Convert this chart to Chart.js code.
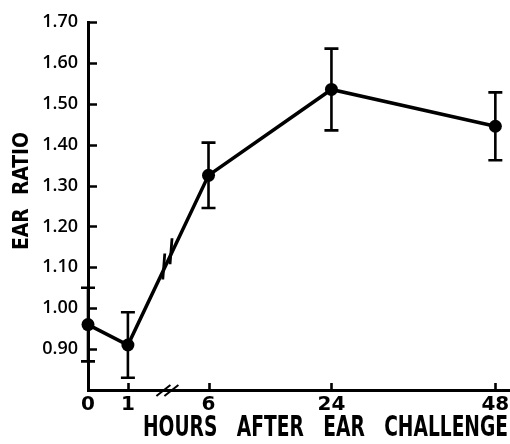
<!DOCTYPE html>
<html>
<head>
<meta charset="utf-8">
<script src="https://cdn.jsdelivr.net/npm/chart.js@4.4.1/dist/chart.umd.min.js"></script>
<style>
  html, body { margin: 0; padding: 0; background: #fff; overflow: hidden; }
  #wrap { width: 510px; height: 444px; }
  canvas { display: block; }
</style>
</head>
<body>
<div id="wrap"><canvas id="chart"></canvas></div>
<script>
// Data
const hours = [0, 1, 6, 24, 48];
const earRatio = [0.96, 0.91, 1.325, 1.535, 1.445];
const earError = [0.09, 0.08, 0.08, 0.10, 0.083];
const yTicks = [0.80, 0.90, 1.00, 1.10, 1.20, 1.30, 1.40, 1.50, 1.60, 1.70];

const xTitle = 'HOURS   AFTER   EAR   CHALLENGE';
const yTitle = 'EAR  RATIO';

// Broken time axis: 0-1 h is stretched, 1-6 h is cut, after 6 h it is linear.
const AXIS_KNOTS = [[0, 0], [1, 1], [6, 3.02], [50, 10.55]];

class BrokenHourScale extends Chart.LinearScale {
    toSlot(v) {
        const k = AXIS_KNOTS;
        if (v <= k[0][0]) return k[0][1];
        for (let i = 1; i < k.length; i++) {
            if (v <= k[i][0]) {
                const t = (v - k[i - 1][0]) / (k[i][0] - k[i - 1][0]);
                return k[i - 1][1] + t * (k[i][1] - k[i - 1][1]);
            }
        }
        return k[k.length - 1][1];
    }
    getPixelForValue(value) {
        const total = AXIS_KNOTS[AXIS_KNOTS.length - 1][1];
        return this.getPixelForDecimal(this.toSlot(value) / total);
    }
    getValueForPixel(pixel) {
        const k = AXIS_KNOTS;
        const slot = this.getDecimalForPixel(pixel) * k[k.length - 1][1];
        for (let i = 1; i < k.length; i++) {
            if (slot <= k[i][1]) {
                const t = (slot - k[i - 1][1]) / (k[i][1] - k[i - 1][1]);
                return k[i - 1][0] + t * (k[i][0] - k[i - 1][0]);
            }
        }
        return k[k.length - 1][0];
    }
}
BrokenHourScale.id = 'brokenHour';
BrokenHourScale.defaults = Chart.LinearScale.defaults;
Chart.register(BrokenHourScale);

// squeezed condensed-bold axis titles, like the typeset originals
function squeezedText(ctx, text, size, width) {
    ctx.font = "bold " + size + "px 'DejaVu Sans Condensed', 'DejaVu Sans', sans-serif";
    const w = ctx.measureText(text).width;
    ctx.scale(width / w, 1);
    ctx.fillText(text, 0, 0);
}

// error bars, inside tick marks, break symbols and titles
const marks = {
    id: 'marks',
    beforeDatasetsDraw(chart) {
        const { ctx, scales: { x, y } } = chart;
        ctx.save();
        ctx.strokeStyle = '#000';
        ctx.lineWidth = 2.6;
        hours.forEach((h, i) => {
            const px = x.getPixelForValue(h);
            const top = y.getPixelForValue(earRatio[i] + earError[i]);
            const bot = y.getPixelForValue(earRatio[i] - earError[i]);
            ctx.beginPath();
            ctx.moveTo(px, top); ctx.lineTo(px, bot);
            ctx.moveTo(px - 7, top); ctx.lineTo(px + 7, top);
            ctx.moveTo(px - 7, bot); ctx.lineTo(px + 7, bot);
            ctx.stroke();
        });
        ctx.restore();
    },
    afterDraw(chart) {
        const { ctx, scales: { x, y } } = chart;
        const left = x.left, bottom = y.bottom;
        ctx.save();
        ctx.strokeStyle = '#000';
        ctx.lineWidth = 2.6;
        ctx.beginPath();
        yTicks.slice(1).forEach(v => {
            const py = Math.round(y.getPixelForValue(v)) + 0.5;
            ctx.moveTo(left - 1, py); ctx.lineTo(left + 9, py);
        });
        hours.slice(1).forEach(h => {
            const px = Math.round(x.getPixelForValue(h)) + 0.5;
            ctx.moveTo(px, bottom); ctx.lineTo(px, bottom - 7);
        });
        ctx.stroke();

        // axis break "//"
        const p1 = x.getPixelForValue(1), p6 = x.getPixelForValue(6);
        const mid = p1 + (p6 - p1) * 0.49;
        ctx.lineWidth = 2;
        ctx.beginPath();
        [-4, 4].forEach(d => {
            ctx.moveTo(mid + d - 7, bottom + 6);
            ctx.lineTo(mid + d + 7, bottom - 5);
        });
        ctx.stroke();

        // break on the curve between 1 h and 6 h
        const y1 = y.getPixelForValue(earRatio[1]), y6 = y.getPixelForValue(earRatio[2]);
        ctx.lineWidth = 2.8;
        ctx.beginPath();
        [0.445, 0.535].forEach(f => {
            const cx = p1 + (p6 - p1) * f;
            const cy = y1 + (y6 - y1) * f - 3;
            ctx.moveTo(cx - 1, cy + 13);
            ctx.lineTo(cx + 1, cy - 13);
        });
        ctx.stroke();

        // titles
        ctx.fillStyle = '#000';
        ctx.textBaseline = 'alphabetic';
        ctx.save();
        ctx.textAlign = 'right';
        ctx.translate(x.right - 1, bottom + 46);
        squeezedText(ctx, xTitle, 29, 365);
        ctx.restore();
        ctx.save();
        ctx.textAlign = 'center';
        ctx.translate(28, (y.top + bottom) / 2 - 15);
        ctx.rotate(-Math.PI / 2);
        squeezedText(ctx, yTitle, 22, 118);
        ctx.restore();
        ctx.restore();
    }
};

new Chart(document.getElementById('chart'), {
    type: 'line',
    data: {
        datasets: [{
            data: hours.map((h, i) => ({ x: h, y: earRatio[i] })),
            borderColor: '#000',
            backgroundColor: '#000',
            borderWidth: 3.5,
            pointRadius: 6.5,
            pointBackgroundColor: '#000',
            pointBorderWidth: 0,
            tension: 0,
            clip: false
        }]
    },
    options: {
        responsive: true,
        maintainAspectRatio: false,
        animation: false,
        events: [],
        layout: { autoPadding: false, padding: { top: 22, right: 1, left: 0, bottom: 0 } },
        plugins: {
            legend: { display: false },
            tooltip: { enabled: false }
        },
        scales: {
            x: {
                type: 'brokenHour',
                min: 0,
                max: 50,
                grid: { display: false, drawTicks: false },
                border: { display: true, color: '#000', width: 3 },
                afterBuildTicks: s => { s.ticks = hours.map(h => ({ value: h })); },
                afterFit: s => { s.height = 54; s.paddingLeft = 0; s.paddingRight = 0; },
                ticks: {
                    autoSkip: false,
                    maxRotation: 0,
                    padding: 3,
                    color: '#000',
                    font: { family: "'DejaVu Sans', sans-serif", size: 20, weight: 'bold' },
                    callback: v => String(v)
                }
            },
            y: {
                min: 0.8,
                max: 1.7,
                grid: { display: false, drawTicks: false },
                border: { display: true, color: '#000', width: 3 },
                afterBuildTicks: s => { s.ticks = yTicks.map(v => ({ value: v })); },
                afterFit: s => { s.width = 88; s.paddingTop = 0; s.paddingBottom = 0; },
                ticks: {
                    padding: 10,
                    color: '#000',
                    font: { family: "'Open Sans', 'DejaVu Sans'", size: 18, weight: 600 },
                    callback: v => (v < 0.85 ? '' : v.toFixed(2))
                }
            }
        }
    },
    plugins: [marks]
});
</script>
</body>
</html>
